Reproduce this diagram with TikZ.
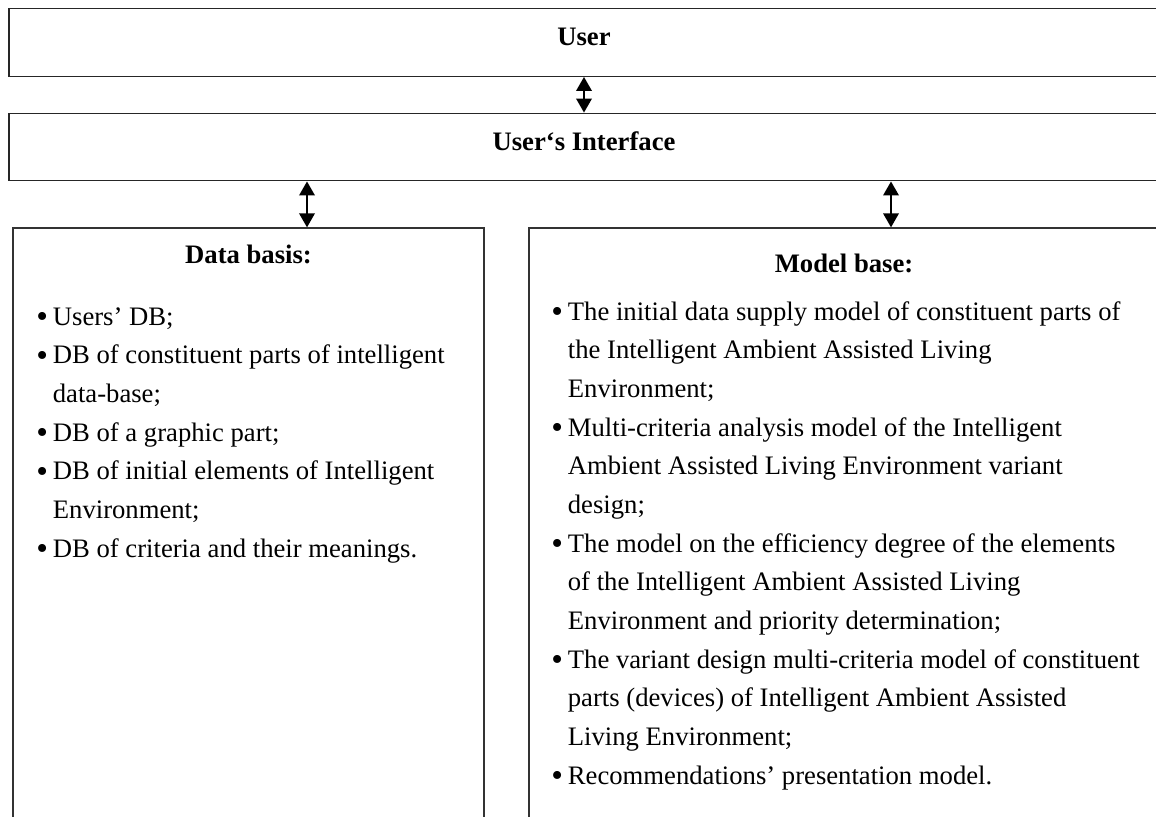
\documentclass[tikz,border=0pt]{standalone}
\usepackage{fontspec}
\setmainfont{Liberation Serif}
\usetikzlibrary{arrows.meta,positioning}

\newcommand\itemdot{\makebox[7.4pt][l]{\raisebox{-1.2pt}{\scalebox{1.25}{\textbullet}}}}
\newcommand\itemgap{\hspace*{7.4pt}}

\begin{document}
\begin{tikzpicture}[
  x=0.45pt,
  y=-0.45pt,
  banner/.style={draw=black!85, line width=0.6pt, minimum width=517.5pt, minimum height=30.4pt, text height=8pt, text depth=5.2pt, font=\fontsize{12pt}{14pt}\selectfont\bfseries},
  panel/.style={draw=black!80, line width=0.6pt, minimum height=270.9pt},
  head/.style={font=\fontsize{12pt}{14pt}\selectfont\bfseries, anchor=base, inner sep=0pt},
  entries/.style={align=left, anchor=base west, inner sep=0pt, font=\fontsize{12pt}{17.4pt}\selectfont},
  arr/.style={<->, >={Triangle[length=6.3pt,width=7pt]}, line width=0.8pt}
]
\useasboundingbox (0,0) rectangle (1156,816);

\node[banner] (user) at (584,42.5) {User};
\node[banner] (iface) at (584,147) {User‘s Interface};

\node[panel, minimum width=211.95pt] (data) at (248.5,529) {};
\node[panel, minimum width=283.5pt] (model) at (844,529) {};

% list nodes are anchored on the baseline of their last line
\node[head] (datahead) at (248.5,263) {Data basis:};
\node[entries] (datalist) at (36,557) {%
  \itemdot Users' DB;\\
  \itemdot DB of constituent parts of intelligent\\
  \itemgap data-base;\\
  \itemdot DB of a graphic part;\\
  \itemdot DB of initial elements of Intelligent\\
  \itemgap Environment;\\
  \itemdot DB of criteria and their meanings.};

\node[head] (modelhead) at (844,272) {Model base:};
\node[entries] (modellist) at (551,784) {%
  \itemdot The initial data supply model of constituent parts of\\
  \itemgap the Intelligent Ambient Assisted Living\\
  \itemgap Environment;\\
  \itemdot Multi-criteria analysis model of the Intelligent\\
  \itemgap Ambient Assisted Living Environment variant\\
  \itemgap design;\\
  \itemdot The model on the efficiency degree of the elements\\
  \itemgap of the Intelligent Ambient Assisted Living\\
  \itemgap Environment and priority determination;\\
  \itemdot The variant design multi-criteria model of constituent\\
  \itemgap parts (devices) of Intelligent Ambient Assisted\\
  \itemgap Living Environment;\\
  \itemdot Recommendations' presentation model.};

% taps where the lower arrows leave the interface bar
\coordinate (datatap) at (307,0);
\coordinate (modeltap) at (891,0);

\draw[arr] (user.south) -- (iface.north);
\draw[arr] (iface.south -| datatap) -- (data.north -| datatap);
\draw[arr] (iface.south -| modeltap) -- (model.north -| modeltap);

\end{tikzpicture}
\end{document}
